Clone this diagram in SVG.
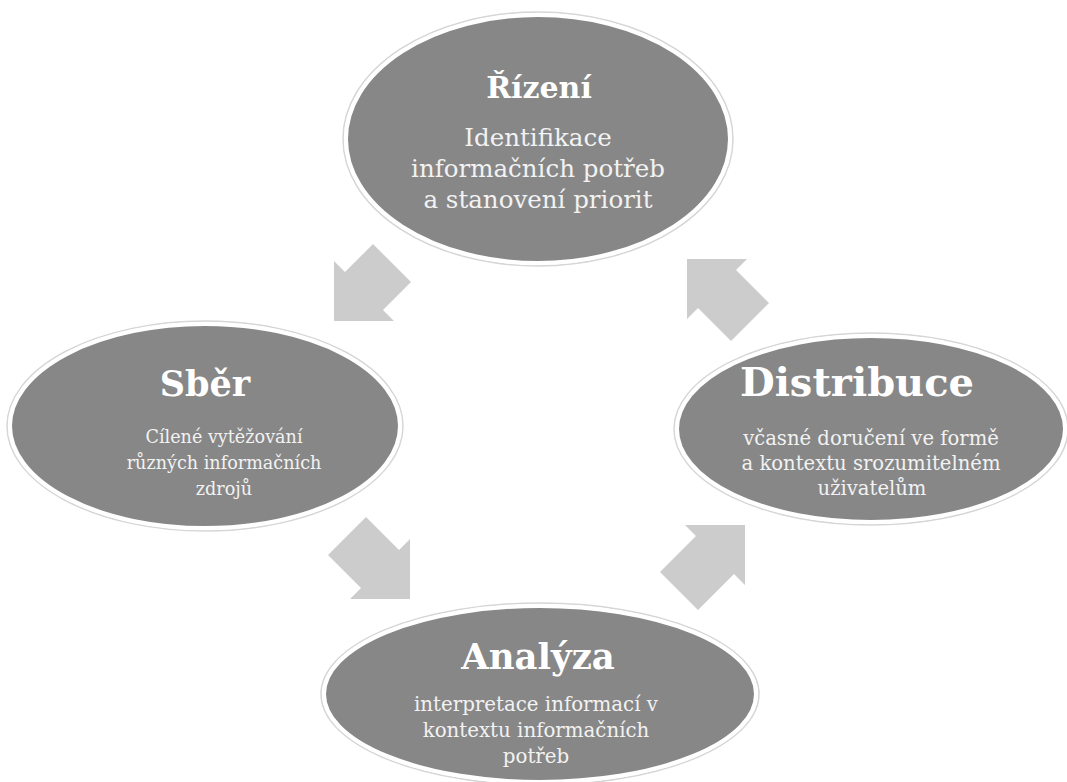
<svg xmlns="http://www.w3.org/2000/svg" width="1067" height="782" viewBox="0 0 1067 782">
  <style>
    .halo { fill: none; stroke: #d6d6d6; stroke-width: 1.5; }
    .disc { fill: #878787; stroke: #ffffff; stroke-width: 4; }
    .title { font-family: "DejaVu Serif", "Liberation Serif", serif; font-weight: bold; fill: #ffffff; text-anchor: middle; }
    .body { font-family: "DejaVu Serif", "Liberation Serif", serif; fill: #f2f2f2; text-anchor: middle; }
    .flow { fill: #cccccc; }
  </style>
  <rect width="1067" height="782" fill="#ffffff"/>

  <!-- block arrows between the stages -->
  <g id="connectors">
    <polygon class="flow" points="334,321 334,261 345,272 373,244 411,282 383,310 394,321"/>
    <polygon class="flow" points="410,599 410,539 399,550 366,517 328,555 361,588 350,599"/>
    <polygon class="flow" points="745,525 685,525 696,536 660,572 698,610 734,574 745,585"/>
    <polygon class="flow" points="687,259 747,259 736,270 769,303 731,341 698,308 687,319"/>
  </g>

  <g id="rizeni">
    <ellipse class="halo" cx="538" cy="139" rx="195" ry="127"/>
    <ellipse class="disc" cx="538" cy="139" rx="192" ry="124"/>
    <text class="title" x="539" y="98" font-size="30">Řízení</text>
    <text class="body" x="538" y="146" font-size="24.5">Identifikace</text>
    <text class="body" x="538" y="177" font-size="24.5">informačních potřeb</text>
    <text class="body" x="538" y="208" font-size="24.5">a stanovení priorit</text>
  </g>

  <g id="sber">
    <ellipse class="halo" cx="205" cy="426" rx="198" ry="105"/>
    <ellipse class="disc" cx="205" cy="426" rx="195" ry="102"/>
    <text class="title" x="205" y="396" font-size="35">Sběr</text>
    <text class="body" x="224" y="443" font-size="17.6">Cílené vytěžování</text>
    <text class="body" x="224" y="469" font-size="17.6">různých informačních</text>
    <text class="body" x="224" y="495" font-size="17.6">zdrojů</text>
  </g>

  <g id="distribuce">
    <ellipse class="halo" cx="871" cy="429" rx="197" ry="96"/>
    <ellipse class="disc" cx="871" cy="429" rx="194" ry="93"/>
    <text class="title" x="857" y="396" font-size="40">Distribuce</text>
    <text class="body" x="871" y="445" font-size="19.6">včasné doručení ve formě</text>
    <text class="body" x="871" y="470" font-size="19.6">a kontextu srozumitelném</text>
    <text class="body" x="872" y="495" font-size="19.6">uživatelům</text>
  </g>

  <g id="analyza">
    <ellipse class="halo" cx="540" cy="694" rx="219" ry="91"/>
    <ellipse class="disc" cx="540" cy="694" rx="216" ry="88"/>
    <text class="title" x="538" y="669" font-size="35.5">Analýza</text>
    <text class="body" x="536" y="711" font-size="19.8">interpretace informací v</text>
    <text class="body" x="536" y="737" font-size="19.8">kontextu informačních</text>
    <text class="body" x="536" y="763" font-size="19.8">potřeb</text>
  </g>
</svg>
